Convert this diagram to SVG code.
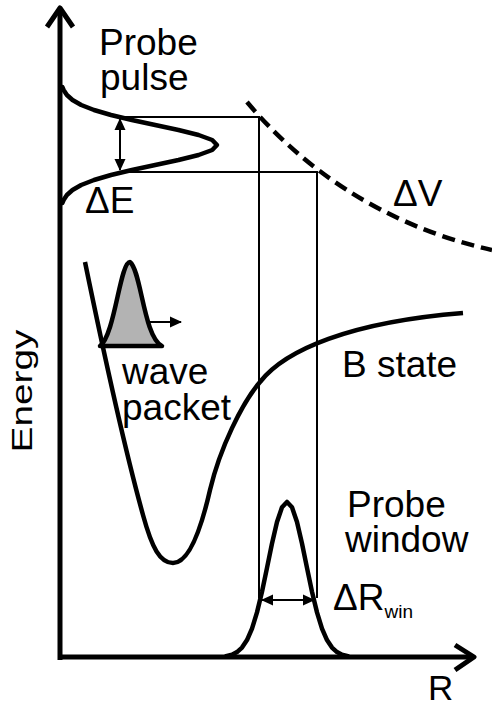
<svg xmlns="http://www.w3.org/2000/svg" width="492" height="706" viewBox="0 0 492 706">
<style>
.thick{fill:none;stroke:#000;stroke-width:4.5;stroke-linejoin:round;stroke-linecap:butt}
.thin{fill:none;stroke:#000;stroke-width:2}
.lbl{font-family:"Liberation Sans",Arial,sans-serif;font-size:37px;fill:#000}
</style>
<defs>
<marker id="ah" viewBox="0 0 12 12" refX="11" refY="6" markerWidth="12" markerHeight="12" markerUnits="userSpaceOnUse" orient="auto-start-reverse">
<path d="M0,0.5 L12,6 L0,11.5 Z" fill="#000"/>
</marker>
</defs>
<rect width="492" height="706" fill="#fff"/>
<g id="axes">
<path class="thick" d="M60,660 V9" style="stroke-width:5"/>
<path class="thick" d="M47,27 L60,8 L73,27" style="stroke-width:5"/>
<path class="thick" d="M58,657 H474" style="stroke-width:5"/>
<path class="thick" d="M455,645 L474,657 L455,670" style="stroke-width:5"/>
</g>
<g id="connectors">
<path class="thin" d="M120,117 H259 V598"/>
<path class="thin" d="M120,172 H317 V598"/>
<line class="thin" x1="120" y1="119" x2="120" y2="170" marker-start="url(#ah)" marker-end="url(#ah)"/>
<line class="thin" x1="262" y1="600" x2="314" y2="600" marker-start="url(#ah)" marker-end="url(#ah)"/>
<line class="thin" x1="133" y1="322" x2="181" y2="322" marker-end="url(#ah)"/>
</g>
<g id="probe-pulse">
<polyline class="thick" points="60,87 62.3,87 63.6,90 66.9,95 72.5,100 81.2,105 94,110 111,115 131.9,120 155.2,125 178.5,130 198.6,135 212.2,140 217,145 212.2,150 198.6,155 178.5,160 155.2,165 131.9,170 111,175 94,180 81.2,185 72.5,190 66.9,195 63.6,200 62.3,203 60,203"/>
</g>
<g id="delta-v-curve">
<path class="thick" d="M247,102 C300,165 380,225 492,250" style="stroke-dasharray:13,7"/>
</g>
<g id="b-state-curve">
<path class="thick" d="M85,262 C100,335 125,450 143,515 C152,548 160,563 173,563 C190,563 202,525 210,490 C220,448 242,403 260,382 C285,350 350,322 463,313"/>
</g>
<g id="wave-packet">
<path d="M100,346 C115,335 120,262 130,262 C141,270 144,338 162,346 Z" fill="#b3b3b3" stroke="#000" stroke-width="4.5" stroke-linejoin="round"/>
</g>
<g id="probe-window">
<polyline class="thick" points="230,656.5 237,654.7 242,652.1 247,647.6 252,640.1 257,628.6 262,612.4 267,591.8 272,567.9 277,543.5 282,522 287,507.3 292,502 297,507.3 302,522 307,543.5 312,567.9 317,591.8 322,612.4 327,628.6 332,640.1 337,647.6 342,652.1 347,654.7 354,656.5" transform="translate(-5,0)"/>
</g>
<g id="labels">
<text class="lbl" x="99" y="55">Probe</text>
<text class="lbl" x="100" y="90">pulse</text>
<text class="lbl" x="85" y="213">ΔE</text>
<text class="lbl" x="393" y="206">ΔV</text>
<text class="lbl" x="122" y="384">wave</text>
<text class="lbl" x="122" y="420">packet</text>
<text class="lbl" x="342" y="377">B state</text>
<text class="lbl" x="347" y="517">Probe</text>
<text class="lbl" x="345" y="552">window</text>
<text class="lbl" x="333" y="610">ΔR<tspan font-size="19" dy="8">win</tspan></text>
<text class="lbl" x="428" y="700" style="font-size:35px">R</text>
<text class="lbl" transform="translate(32,391) rotate(-90)" text-anchor="middle" style="font-size:30px" textLength="123" lengthAdjust="spacingAndGlyphs">Energy</text>
</g>
</svg>
